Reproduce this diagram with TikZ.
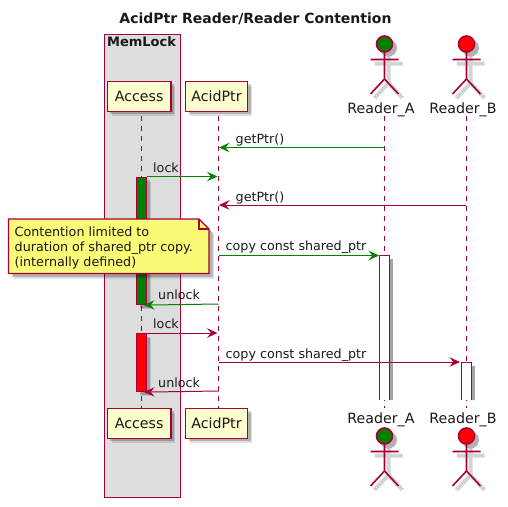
\documentclass[tikz,border=0pt]{standalone}
\usepackage{fontspec}
\setmainfont{DejaVu Sans}
\usetikzlibrary{arrows.meta,shadows,calc}
\definecolor{plum}{HTML}{A80036}
\definecolor{grn}{HTML}{008000}
\definecolor{partfill}{HTML}{FEFECE}
\definecolor{notefill}{HTML}{FBFB77}
\definecolor{boxfill}{HTML}{DDDDDD}
\tikzset{
  x=1pt,y=-1pt,
  softshadow/.style={
    drop shadow={shadow xshift=4.5pt,shadow yshift=-4.5pt,fill=black,opacity=.12},
    drop shadow={shadow xshift=3pt,shadow yshift=-3pt,fill=black,opacity=.2}},
  part/.style={draw=plum,line width=1.4pt,fill=partfill,minimum height=30pt,inner sep=0pt,font=\fontsize{14.2}{16}\selectfont,softshadow,text=black!90},
  life/.style={draw=plum,line width=.9pt,dash pattern=on 5pt off 5pt},
  msg/.style={line width=1pt,-{Stealth[length=10.5pt,width=9.5pt,inset=4pt]}},
  lbl/.style={font=\fontsize{12.7}{15}\selectfont,inner sep=0pt,anchor=base west,text=black!90},
  alabel/.style={font=\fontsize{14.2}{16}\selectfont,inner sep=0pt,anchor=base,text=black!90},
  activ/.style={draw=plum,line width=1.1pt,minimum width=10pt,inner sep=0pt,softshadow},
  limb/.style={draw=plum,line width=1.6pt},
  limbshadow/.style={draw=black,line width=4pt,opacity=.17},
}
\newcommand{\actorfig}[3]{%
  % #1 x, #2 head y, #3 head colour
  \begin{scope}[shift={(#1+4,#2+4)}]
    \fill[black,opacity=.3] (0,0) circle (8.5pt);
    \path[limbshadow] (0,8) -- (0,35) (-14,15.5) -- (14,15.5) (0,35) -- (-14,50) (0,35) -- (14,50);
  \end{scope}
  \begin{scope}[shift={(#1,#2)}]
    \path[limb] (0,8) -- (0,35) (-14,15.5) -- (14,15.5) (0,35) -- (-14,50) (0,35) -- (14,50);
    \path[draw=plum,line width=1.6pt,fill=#3] (0,0) circle (8pt);
  \end{scope}}
\begin{document}
\begin{tikzpicture}
\useasboundingbox (0,0) rectangle (508,506);
% title
\node[font=\bfseries\fontsize{14}{16}\selectfont,inner sep=0pt,anchor=base,text=black!90] (title) at (255.5,23) {AcidPtr Reader/Reader Contention};
% grouping box
\node[draw=plum,line width=1pt,fill=boxfill,anchor=north west,minimum width=76pt,minimum height=462.5pt,inner sep=0pt] (box) at (103.5,34) {};
\node[font=\bfseries\fontsize{13}{15}\selectfont,inner sep=0pt,anchor=base,text=black!90] (boxt) at (141.5,46) {MemLock};
% message rows
\foreach \n/\y in {m1/147.5,m2/176.5,m3/205,m4/255.5,m5/304,m6/333,m7/362,m8/391}
  \coordinate (\n) at (0,\y);
% lifeline tops and bottoms
\coordinate (act) at (141,96);  \coordinate (acb) at (141,423);
\coordinate (apt) at (218.5,96);\coordinate (apb) at (218.5,423);
\coordinate (rat) at (384.5,116);\coordinate (rab) at (384.5,408);
\coordinate (rbt) at (466,116); \coordinate (rbb) at (466,408);
\path[life] (act) -- (acb);
\path[life] (apt) -- (apb);
\path[life] (rat) -- (rab);
\path[life] (rbt) -- (rbb);
% participants
\node[part,minimum width=63.5pt] (access) at (139.2,96.2) {Access};
\node[part,minimum width=62pt] (acid) at (216.5,96.2) {AcidPtr};
\node[part,minimum width=63.5pt] (accessb) at (139.2,423.3) {Access};
\node[part,minimum width=62pt] (acidb) at (216.5,423.3) {AcidPtr};
% actors
\actorfig{384.5}{44}{grn}
\actorfig{466.5}{44}{red}
\actorfig{384.5}{436}{grn}
\actorfig{466.5}{436}{red}
\node[alabel] (la) at (381,113) {Reader\_A};
\node[alabel] (lb) at (463,113) {Reader\_B};
\node[alabel] (lab) at (381,423) {Reader\_A};
\node[alabel] (lbb) at (463,423) {Reader\_B};
% activations
\node[activ,fill=grn,anchor=north,minimum height=127.5pt] (g) at (141.5,176.5) {};
\node[activ,fill=red,anchor=north,minimum height=58pt] (r) at (141.5,333) {};
% open-ended activations on the readers
\fill[black,opacity=.35] (389.5,259) rectangle (393,400);
\fill[white] (379.5,255.5) rectangle (389.5,400);
\draw[plum,line width=1pt] (379.5,400) -- (379.5,255.5) -- (389.5,255.5) -- (389.5,400);
\fill[black,opacity=.35] (471.5,365.5) rectangle (475,400);
\fill[white] (461.5,362) rectangle (471.5,400);
\draw[plum,line width=1pt] (461.5,400) -- (461.5,362) -- (471.5,362) -- (471.5,400);
% messages
\draw[msg,grn] (rat|-m1) -- ($(apt|-m1)+(.5,0)$);
\draw[msg,grn] (g.north east) -- ($(apt|-m2)+(-1,0)$);
\draw[msg,plum] (rbt|-m3) -- ($(apt|-m3)+(.5,0)$);
\draw[msg,grn] (apt|-m4) -- ($(rat|-m4)+(-5.5,0)$);
\draw[msg,grn] (apt|-m5) -- ($(g.south east)+(-3,0)$);
\draw[msg,plum] (r.north east) -- ($(apt|-m6)+(-1,0)$);
\draw[msg,plum] (apt|-m7) -- ($(rbt|-m7)+(-6,0)$);
\draw[msg,plum] (apt|-m8) -- ($(r.south east)+(-3,0)$);
% message labels
\node[lbl] (t1) at (235.5,143) {getPtr()};
\node[lbl] (t2) at (153,172) {lock};
\node[lbl] (t3) at (235.5,201) {getPtr()};
\node[lbl] (t4) at (225.5,250) {copy const shared\_ptr};
\node[lbl] (t5) at (158,299.5) {unlock};
\node[lbl] (t6) at (153,328.5) {lock};
\node[lbl] (t7) at (225.5,358) {copy const shared\_ptr};
\node[lbl] (t8) at (158,387) {unlock};
% note
\fill[black,opacity=.12] (13.5,224) -- (204,224) -- (214,234) -- (214,278.5) -- (13.5,278.5) -- cycle;
\fill[black,opacity=.2] (12,222.5) -- (202.5,222.5) -- (212.5,232.5) -- (212.5,277) -- (12,277) -- cycle;
\draw[plum,line width=1.1pt,fill=notefill] (8.5,219) -- (199,219) -- (209,229) -- (209,273.5) -- (8.5,273.5) -- cycle;
\draw[plum,line width=1.1pt] (199,219) -- (199,229) -- (209,229);
\node[lbl] (n1) at (14.5,236) {Contention limited to};
\node[lbl] (n2) at (14.5,251) {duration of shared\_ptr copy.};
\node[lbl] (n3) at (14.5,266) {(internally defined)};
\end{tikzpicture}
\end{document}
